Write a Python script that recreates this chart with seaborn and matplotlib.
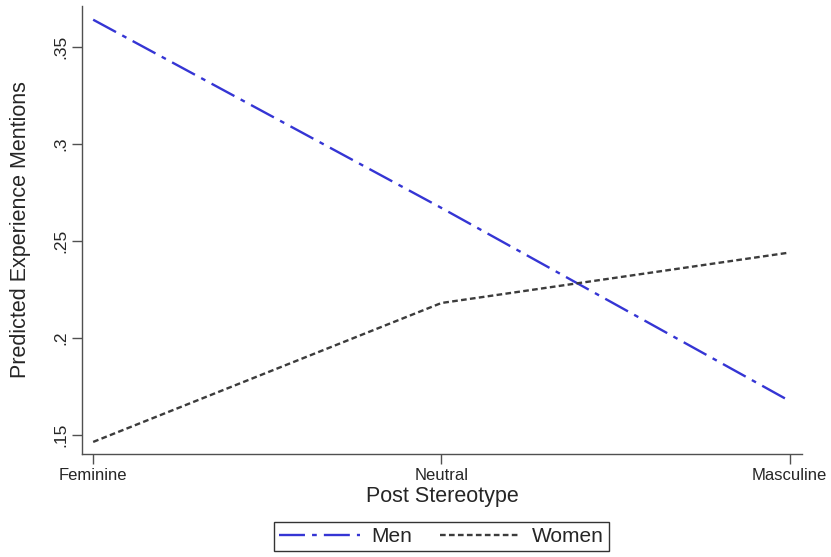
import numpy as np
import pandas as pd
import matplotlib
matplotlib.use("Agg")
import matplotlib.pyplot as plt
import seaborn as sns

# Predicted experience mentions by post stereotype, separately for men and women
stereotype = ["Feminine", "Neutral", "Masculine"]
men = [0.364, 0.267, 0.1675]
women = [0.1464, 0.218, 0.244]
y_ticks = [0.15, 0.2, 0.25, 0.3, 0.35]
y_tick_labels = [".15", ".2", ".25", ".3", ".35"]

df = pd.DataFrame({
    "Post Stereotype": stereotype * 2,
    "pred": men + women,
    "group": ["Men"] * 3 + ["Women"] * 3,
})
df["pos"] = df["Post Stereotype"].map({s: i for i, s in enumerate(stereotype)})

sns.set_style("white")
plt.rcParams["font.family"] = ["Liberation Sans", "DejaVu Sans"]

fig = plt.figure(figsize=(8.31, 5.57), dpi=100)
ax = fig.add_axes([0.0987, 0.185, 0.867, 0.804])

sns.lineplot(data=df, x="pos", y="pred", hue="group", style="group",
             palette={"Men": "#3535d4", "Women": "#3c3c3c"},
             dashes={"Men": (11, 3, 2, 3), "Women": (2.4, 1.4)},
             linewidth=1.7, ax=ax)

ax.set_xlim(-0.032, 2.037)
ax.set_ylim(0.1402, 0.371)
ax.set_xticks(range(len(stereotype)))
ax.set_xticklabels(stereotype, fontsize=12)
ax.set_yticks(y_ticks)
ax.set_yticklabels(y_tick_labels, fontsize=12.5, rotation=90, va="center")
ax.set_xlabel("Post Stereotype", fontsize=15.5, labelpad=2)
ax.set_ylabel("Predicted Experience Mentions", fontsize=15.5, labelpad=16)

for s in ["top", "right"]:
    ax.spines[s].set_visible(False)
for s in ["left", "bottom"]:
    ax.spines[s].set_color("#505050")
    ax.spines[s].set_linewidth(1.0)
ax.tick_params(axis="both", direction="out", length=7, width=1, color="#505050",
               bottom=True, left=True, pad=3)

handles, labels = ax.get_legend_handles_labels()
ax.get_legend().remove()
leg = fig.legend(handles, labels, ncol=2, loc="center",
                 bbox_to_anchor=(441.5 / 831, 1 - 536.5 / 557),
                 frameon=True, fancybox=False, edgecolor="black",
                 fontsize=15, handlelength=3.85, columnspacing=1.3,
                 handletextpad=0.58, borderpad=0.25)
leg.get_frame().set_linewidth(1.0)

fig.savefig("out.png", dpi=100)
